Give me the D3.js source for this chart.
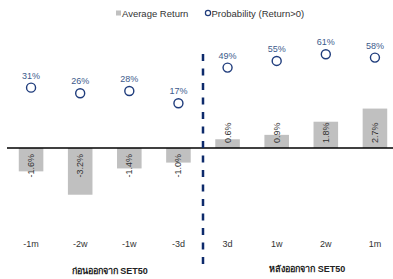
<!DOCTYPE html>
<html><head><meta charset="utf-8">
<script src="https://cdn.jsdelivr.net/npm/d3@7"></script>
<style>html,body{margin:0;padding:0;background:#fff;overflow:hidden}</style>
</head><body>
<script>
const categories = ["-1m","-2w","-1w","-3d","3d","1w","2w","1m"];
const avgReturn = [-1.6,-3.2,-1.4,-1.0,0.6,0.9,1.8,2.7];
const avgLabels = ["-1.6%","-3.2%","-1.4%","-1.0%","0.6%","0.9%","1.8%","2.7%"];
const probPositive = [31,26,28,17,49,55,61,58];
const groupLabels = ["ก่อนออกจาก SET50","หลังออกจาก SET50"];
const seriesNames = ["Average Return","Probability (Return>0)"];

const W=393,H=279;
const svg=d3.select("body").append("svg").attr("width",W).attr("height",H);
const font="Liberation Sans, Arial, sans-serif";

const x=d3.scaleBand().domain(categories).range([6.5,399.5]).paddingInner(0.5).paddingOuter(0.25);
const y=d3.scaleLinear().domain([-4,4]).range([206.4,89.6]);
const y2=d3.scaleLinear().domain([0,100]).range([122.2,10.8]);

// bars
svg.selectAll("rect.bar").data(avgReturn).enter().append("rect")
  .attr("x",(d,i)=>x(categories[i])).attr("width",x.bandwidth())
  .attr("y",d=>Math.min(y(d),y(0))).attr("height",d=>Math.abs(y(d)-y(0)))
  .attr("fill","#c0c0c0");

// zero line
svg.append("line").attr("x1",7).attr("x2",W).attr("y1",y(0)).attr("y2",y(0))
  .attr("stroke","#000").attr("stroke-width",1.5);

// bar labels
svg.selectAll("text.bl").data(avgReturn).enter().append("text")
  .attr("transform",(d,i)=>{const cx=x(categories[i])+x.bandwidth()/2;const yy=d<0?y(0)+6:y(0)-5;return `translate(${cx},${yy}) rotate(-90)`;})
  .attr("text-anchor",d=>d<0?"end":"start").attr("dominant-baseline","central")
  .attr("font-family",font).attr("font-size",9).attr("fill","#333")
  .text((d,i)=>avgLabels[i]);

// divider
const divX=(x(categories[3])+x.bandwidth()+x(categories[4]))/2;
svg.append("line").attr("x1",divX).attr("x2",divX).attr("y1",54).attr("y2",267)
  .attr("stroke","#0d2a6b").attr("stroke-width",2.5).attr("stroke-dasharray","7,7.5");

// circles
svg.selectAll("circle.p").data(probPositive).enter().append("circle")
  .attr("cx",(d,i)=>x(categories[i])+x.bandwidth()/2).attr("cy",d=>y2(d)).attr("r",4.5)
  .attr("fill","#fff").attr("stroke","#1f3c7c").attr("stroke-width",1.4);
svg.selectAll("text.pl").data(probPositive).enter().append("text")
  .attr("x",(d,i)=>x(categories[i])+x.bandwidth()/2).attr("y",d=>y2(d)-9)
  .attr("text-anchor","middle").attr("font-family",font).attr("font-size",9).attr("fill","#3c5a8c")
  .text(d=>d+"%");

// category labels
svg.selectAll("text.cat").data(categories).enter().append("text")
  .attr("x",d=>x(d)+x.bandwidth()/2).attr("y",247)
  .attr("text-anchor","middle").attr("font-family",font).attr("font-size",9).attr("fill","#333")
  .text(d=>d);

// group labels
const gx=[(x(categories[1])+x(categories[2]))/2+x.bandwidth()/2+5,(x(categories[5])+x(categories[6]))/2+x.bandwidth()/2+6];
svg.selectAll("text.grp").data(groupLabels).enter().append("text")
  .attr("x",(d,i)=>gx[i]).attr("y",(d,i)=>i==0?274:272)
  .attr("text-anchor","middle").attr("font-family",font).attr("font-size",9).attr("font-weight","bold").attr("fill","#222")
  .text(d=>d);

// legend
const lg=svg.append("g").attr("font-family",font).attr("font-size",9.5).attr("fill","#333");
lg.append("rect").attr("x",116).attr("y",10.5).attr("width",5).attr("height",5).attr("fill","#c0c0c0");
lg.append("text").attr("x",122).attr("y",16.5).text(seriesNames[0]);
lg.append("circle").attr("cx",208).attr("cy",13).attr("r",2.6).attr("fill","#fff").attr("stroke","#1f3c7c").attr("stroke-width",1.2);
lg.append("text").attr("x",211.5).attr("y",16.5).text(seriesNames[1]);
</script>
</body></html>
